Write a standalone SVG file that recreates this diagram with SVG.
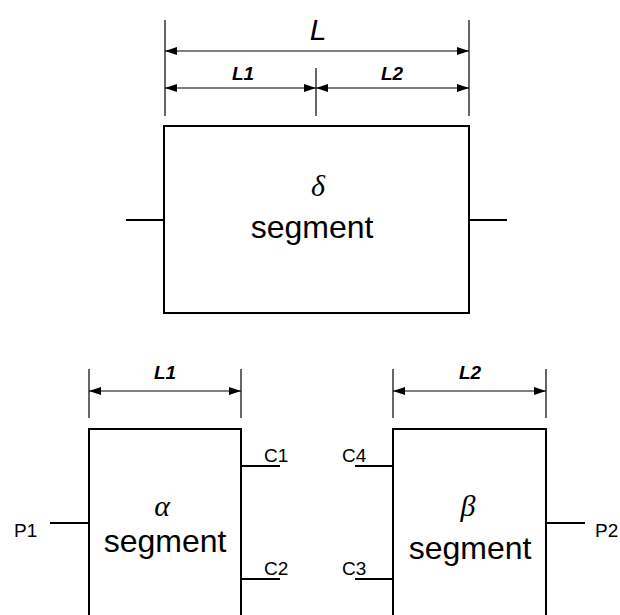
<svg xmlns="http://www.w3.org/2000/svg" width="620" height="615" viewBox="0 0 620 615">
<defs>
<marker id="ah" viewBox="0 0 12 8" refX="12" refY="4" markerWidth="12" markerHeight="8" markerUnits="userSpaceOnUse" orient="auto-start-reverse">
<path d="M0,0 L12,4 L0,8 Z" fill="#000"/>
</marker>
</defs>
<style>
.box{fill:#fff;stroke:#000;stroke-width:2}
.lead{stroke:#000;stroke-width:2;fill:none}
.ext{stroke:#000;stroke-width:1.2;fill:none}
.dim{stroke:#000;stroke-width:1.2;fill:none;marker-start:url(#ah);marker-end:url(#ah)}
.seg{font-family:"Liberation Sans",Arial,sans-serif;font-size:32px;text-anchor:middle;fill:#000}
.greek{font-family:"Liberation Serif","Times New Roman",serif;font-style:italic;font-size:30px;text-anchor:middle;fill:#000}
.lab{font-family:"Liberation Sans",Arial,sans-serif;font-size:19px;fill:#000}
.dl{font-family:"Liberation Sans",Arial,sans-serif;font-style:italic;font-weight:bold;font-size:19px;text-anchor:middle;fill:#000}
.big{font-family:"Liberation Sans",Arial,sans-serif;font-style:italic;font-size:30px;text-anchor:middle;fill:#000}
</style>
<g id="connectors">
<line class="ext" x1="165" y1="20" x2="165" y2="116"/>
<line class="ext" x1="469" y1="20" x2="469" y2="116"/>
<line class="ext" x1="316" y1="68" x2="316" y2="116"/>
<line class="dim" x1="165" y1="51" x2="469" y2="51"/>
<line class="dim" x1="165" y1="88" x2="316" y2="88"/>
<line class="dim" x1="316" y1="88" x2="469" y2="88"/>
<line class="lead" x1="126" y1="220" x2="164" y2="220"/>
<line class="lead" x1="469" y1="220" x2="507" y2="220"/>
<line class="ext" x1="89" y1="369" x2="89" y2="418"/>
<line class="ext" x1="241" y1="369" x2="241" y2="418"/>
<line class="dim" x1="89" y1="391" x2="241" y2="391"/>
<line class="ext" x1="393" y1="369" x2="393" y2="418"/>
<line class="ext" x1="546" y1="369" x2="546" y2="418"/>
<line class="dim" x1="393" y1="391" x2="546" y2="391"/>
<line class="lead" x1="50" y1="523" x2="89" y2="523"/>
<line class="lead" x1="241" y1="466" x2="280" y2="466"/>
<line class="lead" x1="241" y1="579" x2="280" y2="579"/>
<line class="lead" x1="355" y1="466" x2="393" y2="466"/>
<line class="lead" x1="355" y1="579" x2="393" y2="579"/>
<line class="lead" x1="546" y1="523" x2="585" y2="523"/>
</g>
<g id="dimension-labels">
<text class="big" x="318" y="40">L</text>
<text class="dl" x="243" y="80">L1</text>
<text class="dl" x="392" y="80">L2</text>
<text class="dl" x="165" y="379">L1</text>
<text class="dl" x="470" y="379">L2</text>
</g>
<g id="delta-segment">
<rect class="box" x="164" y="126" width="305" height="187"/>
<text class="greek" x="318" y="196">δ</text>
<text class="seg" x="312" y="238">segment</text>
</g>
<g id="alpha-segment">
<rect class="box" x="89" y="429" width="152" height="200"/>
<text class="greek" x="162" y="516">α</text>
<text class="seg" x="165" y="552">segment</text>
<text class="lab" x="264" y="462">C1</text>
<text class="lab" x="264" y="575">C2</text>
<text class="lab" x="14" y="537">P1</text>
</g>
<g id="beta-segment">
<rect class="box" x="393" y="429" width="153" height="200"/>
<text class="greek" x="468" y="516">β</text>
<text class="seg" x="470" y="559">segment</text>
<text class="lab" x="342" y="462">C4</text>
<text class="lab" x="342" y="575">C3</text>
<text class="lab" x="595" y="537">P2</text>
</g>
</svg>
